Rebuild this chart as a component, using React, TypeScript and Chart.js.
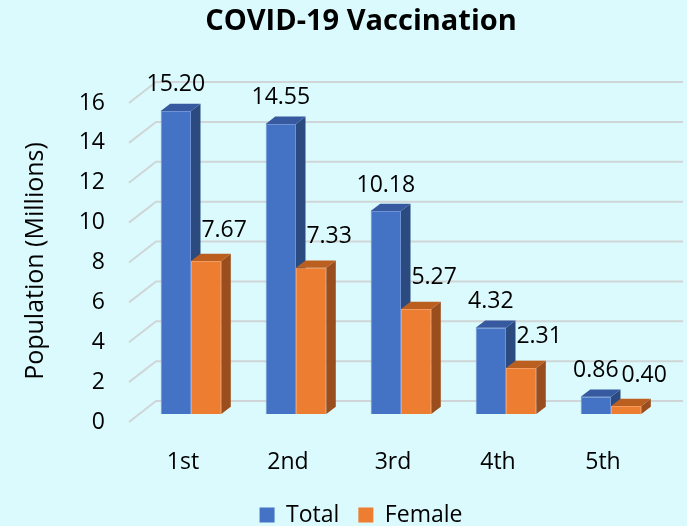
import React, { useEffect, useRef } from "react";
import { Chart, registerables } from "chart.js";

Chart.register(...registerables);

// ---- data ----
const CATEGORIES = ["1st", "2nd", "3rd", "4th", "5th"];
const SERIES_NAMES = ["Total", "Female"];
const TOTAL = [15.2, 14.55, 10.18, 4.32, 0.86];
const FEMALE = [7.67, 7.33, 5.27, 2.31, 0.4];
const Y_MIN = 0;
const Y_MAX = 16;
const Y_STEP = 2;
const TITLE = "COVID-19 Vaccination";
const Y_TITLE = "Population (Millions)";

// ---- styles ----
const BG = "#dbfafd";
const FONT = "'Open Sans', 'Noto Sans', sans-serif";
const FRONT = ["#4472C4", "#ED7D31"];
const EDGE = ["#6e92d4", "#f29c62"];
const TOP = ["#3659a0", "#bb5f21"];
const SIDE = ["#2b4a80", "#9a4e1d"];
const GRID = "#d0d6d7";
const DEPTH_X = 9.5;
const DEPTH_Y = -7.3;
const LABEL_DX = [0, 18];
const LABEL_DY = [-26, -31];

const threeD = {
  id: "threeD",
  beforeDatasetsDraw(chart: any) {
    const { ctx, chartArea } = chart;
    const ys = chart.scales.y;
    ctx.save();
    ctx.strokeStyle = GRID;
    ctx.lineWidth = 2;
    ys.ticks.forEach((t: any) => {
      const yf = ys.getPixelForValue(t.value);
      ctx.beginPath();
      ctx.moveTo(chartArea.left - 9.5, yf + 8);
      ctx.lineTo(chartArea.left + 17.5, yf - 13);
      ctx.lineTo(chartArea.right + 19.5, yf - 13);
      ctx.stroke();
    });
    ctx.restore();
  },
  afterDatasetsDraw(chart: any) {
    const { ctx } = chart;
    const metas = chart.data.datasets.map((_: any, d: number) => chart.getDatasetMeta(d));
    const poly = (pts: number[][], color: string) => {
      ctx.beginPath();
      ctx.moveTo(pts[0][0], pts[0][1]);
      for (let k = 1; k < pts.length; k++) ctx.lineTo(pts[k][0], pts[k][1]);
      ctx.closePath();
      ctx.fillStyle = color;
      ctx.fill();
    };
    ctx.save();
    for (let i = 0; i < CATEGORIES.length; i++) {
      metas.forEach((meta: any, d: number) => {
        const el = meta.data[i];
        const p = el.getProps(["x", "y", "base", "width"], true);
        const x1 = p.x - p.width / 2;
        const x2 = p.x + p.width / 2;
        if (d > 0) el.draw(ctx);
        poly(
          [
            [x2, p.y],
            [x2 + DEPTH_X, p.y + DEPTH_Y],
            [x2 + DEPTH_X, p.base + DEPTH_Y],
            [x2, p.base],
          ],
          SIDE[d]
        );
        poly(
          [
            [x1, p.y],
            [x1 + DEPTH_X, p.y + DEPTH_Y],
            [x2 + DEPTH_X, p.y + DEPTH_Y],
            [x2, p.y],
          ],
          TOP[d]
        );
      });
    }
    ctx.font = `23px ${FONT}`;
    ctx.fillStyle = "#000";
    ctx.textAlign = "center";
    ctx.textBaseline = "middle";
    metas.forEach((meta: any, d: number) => {
      meta.data.forEach((el: any, i: number) => {
        const v = chart.data.datasets[d].data[i] as number;
        ctx.fillText(v.toFixed(2), el.x + LABEL_DX[d], el.y + LABEL_DY[d]);
      });
    });
    ctx.restore();
  },
};

const bgPlugin = {
  id: "bg",
  beforeDraw(chart: any) {
    const { ctx, width, height } = chart;
    ctx.save();
    ctx.fillStyle = BG;
    ctx.fillRect(0, 0, width, height);
    ctx.restore();
  },
};

export default function App() {
  const ref = useRef<HTMLCanvasElement | null>(null);

  useEffect(() => {
    document.body.style.margin = "0";
    document.body.style.background = BG;
    document.documentElement.style.background = BG;
    if (!ref.current) return;
    Chart.defaults.font.family = FONT;
    const chart = new Chart(ref.current, {
      type: "bar",
      data: {
        labels: CATEGORIES,
        datasets: [TOTAL, FEMALE].map((vals, d) => ({
          label: SERIES_NAMES[d],
          data: vals,
          backgroundColor: FRONT[d],
          borderColor: EDGE[d],
          borderWidth: 1,
          categoryPercentage: 0.577,
          barPercentage: 1,
        })),
      },
      options: {
        responsive: false,
        animation: false,
        devicePixelRatio: 1,
        layout: { padding: { left: 58.5, right: 23.5, top: 0, bottom: -10.5 } },
        plugins: {
          title: {
            display: true,
            text: TITLE,
            color: "#000",
            font: { size: 29, weight: "bold", family: FONT },
            padding: { top: 4.6, bottom: 55.6 },
          },
          legend: {
            position: "bottom",
            labels: {
              color: "#000",
              font: { size: 23, family: FONT },
              boxWidth: 15,
              boxHeight: 15,
              padding: 19,
              generateLabels: (c: any) =>
                (Chart.defaults.plugins.legend.labels as any)
                  .generateLabels(c)
                  .map((l: any) => ({ ...l, lineWidth: 0, strokeStyle: "transparent" })),
            },
          },
          tooltip: { enabled: false },
        },
        scales: {
          x: {
            grid: { display: false },
            border: { display: false },
            ticks: {
              color: "#000",
              font: { size: 23, family: FONT },
              padding: 27,
              labelOffset: -8,
              maxRotation: 0,
              autoSkip: false,
            },
            afterFit: (s: any) => {
              s.height = 70.5;
            },
          },
          y: {
            min: Y_MIN,
            max: Y_MAX,
            grid: { display: false, drawTicks: false },
            border: { display: false },
            ticks: {
              stepSize: Y_STEP,
              color: "#000",
              font: { size: 23, family: FONT },
              padding: 33.5,
              labelOffset: 8,
            },
            title: {
              display: true,
              text: Y_TITLE + "  ",
              color: "#000",
              font: { size: 25, family: FONT },
              padding: { top: -38, bottom: 0 },
            },
            afterFit: (s: any) => {
              s.width = 80;
            },
          },
        },
      },
      plugins: [bgPlugin, threeD],
    });
    return () => chart.destroy();
  }, []);

  return (
    <div style={{ width: 687, height: 526, background: BG }}>
      <canvas ref={ref} width={687} height={526} style={{ display: "block" }} />
    </div>
  );
}
